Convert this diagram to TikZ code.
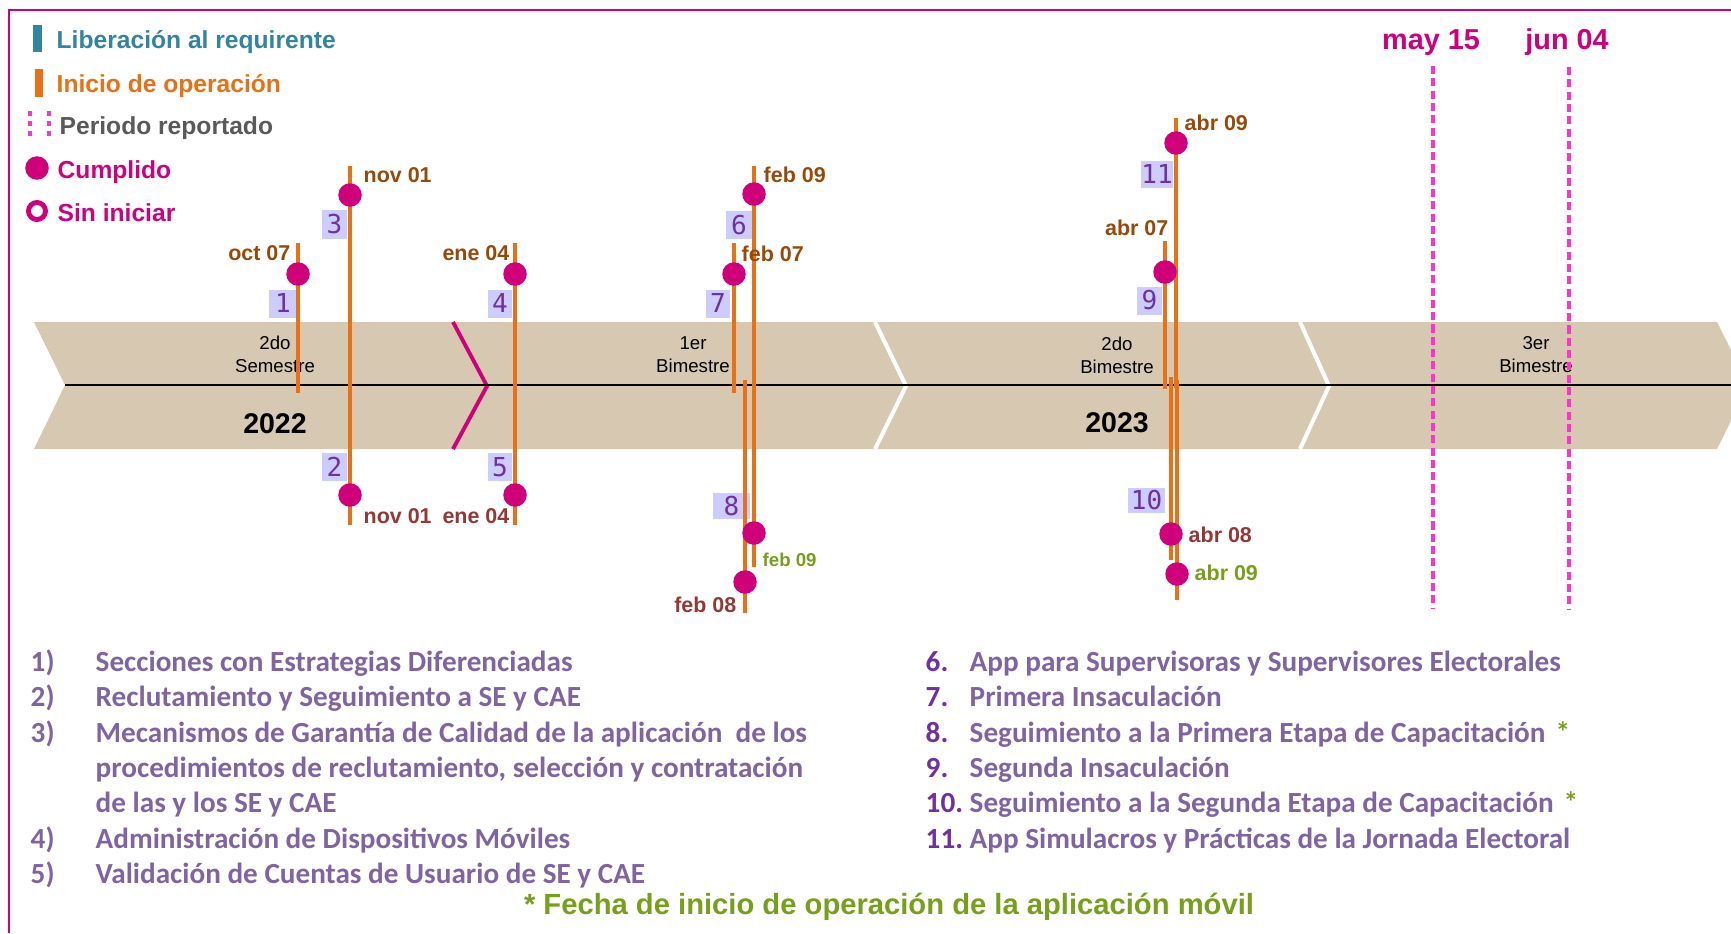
\documentclass[tikz,border=0pt]{standalone}
\usepackage{fontspec}
\setmainfont{Liberation Sans}
\newfontfamily\listfont{Carlito}
\newfontfamily\boxfont{DejaVu Sans Mono}
\newcommand{\setfs}[1]{\fontsize{#1}{#1}\selectfont}
\definecolor{opcolor}{RGB}{233,113,19}
\definecolor{relcolor}{RGB}{49,133,156}
\definecolor{magcolor}{RGB}{208,0,122}
\definecolor{pinkdash}{RGB}{255,51,204}
\definecolor{bandcolor}{RGB}{215,201,177}
\definecolor{browncolor}{RGB}{152,72,7}
\definecolor{redbrown}{RGB}{149,55,53}
\definecolor{greencolor}{RGB}{118,160,26}
\definecolor{boxcolor}{RGB}{204,204,255}
\definecolor{numcolor}{RGB}{112,48,160}
\definecolor{listcolor}{RGB}{128,100,162}
\definecolor{graycolor}{RGB}{89,89,89}
\begin{document}
\begin{tikzpicture}[x=0.01cm,y=-0.01cm,
  opline/.style={draw=opcolor,line width=1.15pt},
  done/.style={circle,fill=magcolor,minimum size=0.235cm,inner sep=0pt},
  numbox/.style={fill=boxcolor,text=numcolor,inner sep=0pt,minimum height=0.28cm,font=\boxfont\setfs{7.4pt}},
  datelbl/.style={inner sep=0pt,font=\bfseries\setfs{6.1pt}},
  seglbl/.style={align=center,inner sep=0pt,font=\fontsize{5.3pt}{6.5pt}\selectfont},
  yearlbl/.style={anchor=mid,inner sep=0pt,font=\bfseries\setfs{8.1pt}},
  legend/.style={anchor=mid west,inner sep=0pt,font=\bfseries\setfs{7pt}},
  listnum/.style={anchor=mid west,inner sep=0pt,font=\listfont\bfseries\setfs{8.3pt}},
  listtxt/.style={anchor=mid west,inner sep=0pt,text=listcolor,font=\listfont\bfseries\setfs{8.3pt}}]

\useasboundingbox (0,0) rectangle (1731,933);

% marco
\draw[magcolor,line width=0.57pt] (9,933) -- (9,10) -- (1731,10);

% leyenda
\fill[relcolor] (33,25) rectangle (42,52);
\node[legend,text=relcolor] (lib) at (56,39.5) {Liberación al requirente};
\fill[opcolor] (35,69) rectangle (43,97);
\node[legend,text=opcolor] (ini) at (56,83) {Inicio de operación};
\draw[pinkdash,line width=1.4pt,dash pattern=on 1.4pt off 1.4pt] (30,111) -- (30,137) (49,111) -- (49,137);
\node[legend,text=graycolor] (per) at (59,125) {Periodo reportado};
\node[done] (cumpl) at (37,168) {};
\node[legend,text=magcolor] (cum) at (57,169) {Cumplido};
\node[circle,draw=magcolor,line width=1.4pt,minimum size=0.17cm,inner sep=0pt] (sinic) at (37,211) {};
\node[legend,text=magcolor] (sin) at (57,212) {Sin iniciar};

% banda
\fill[bandcolor] (34,322) -- (1717,322) -- (1731,350) -- (1731,421) -- (1717,449) -- (34,449) -- (65,385) -- cycle;
\draw[white,line width=1.15pt] (875,322) -- (906,386) -- (875,449);
\draw[white,line width=1.15pt] (1300,322) -- (1329,386) -- (1300,449);
\draw[magcolor,line width=1.1pt] (453,322) -- (487,386) -- (453,449);
\draw[black,line width=0.65pt] (65,385) -- (1731,385);

\node[seglbl] (sem2) at (275,354.5) {2do\\Semestre};
\node[seglbl] (bim1) at (693,354.5) {1er\\Bimestre};
\node[seglbl] (bim2) at (1117,355) {2do\\Bimestre};
\node[seglbl] (bim3) at (1536,354.5) {3er\\Bimestre};
\node[yearlbl] (y22) at (275,424) {2022};
\node[yearlbl] (y23) at (1117,423) {2023};

% numeros
\node[numbox,minimum width=0.28cm] (n1) at (283,303.5) {1};
\node[numbox,minimum width=0.25cm,minimum height=0.29cm] (n3) at (334.5,224.5) {3};
\node[numbox,minimum width=0.25cm] (n2) at (334.5,467) {2};
\node[numbox,minimum width=0.24cm] (n4) at (500,303.5) {4};
\node[numbox,minimum width=0.24cm] (n5) at (500,467) {5};
\node[numbox,minimum width=0.26cm] (n6) at (739,225) {6};
\node[numbox,minimum width=0.24cm] (n7) at (718,303.5) {7};
\node[numbox,minimum width=0.37cm,minimum height=0.26cm] (n8) at (731.5,506) {8};
\node[numbox,minimum width=0.25cm] (n9) at (1149.5,300.5) {9};
\node[numbox,minimum width=0.32cm,minimum height=0.27cm] (n11) at (1157,174.5) {11};
\node[numbox,minimum width=0.37cm,minimum height=0.25cm] (n10) at (1146.5,500.5) {10};

% lineas de inicio
\foreach \x/\a/\b in {298/243/393, 350/166/386, 350/383/525, 515/243/386, 515/383/525,
  754/166/388, 734/243/393, 745/380/613, 754/380/567,
  1165/241/389, 1176/118/388, 1171/377/560, 1177/380/600}
  \draw[opline] (\x,\a) -- (\x,\b);

\node[done] (m1) at (298,274) {};
\node[done] (m2) at (350,495) {};
\node[done] (m3) at (350,195) {};
\node[done] (m4) at (515,274) {};
\node[done] (m5) at (515,495) {};
\node[done] (m6) at (754,194) {};
\node[done] (m7) at (734,274) {};
\node[done] (m8a) at (745,582) {};
\node[done] (m8b) at (754,533) {};
\node[done] (m9) at (1165,272) {};
\node[done] (m10) at (1171,534) {};
\node[done] (m11) at (1176,143) {};
\node[done] (m11b) at (1177,574) {};

% fechas
\node[datelbl,anchor=mid east,text=browncolor] (d1) at (291,251) {oct 07};
\node[datelbl,anchor=mid west,text=browncolor] (d3) at (363,173) {nov 01};
\node[datelbl,anchor=mid west,text=redbrown] (d2) at (363,514) {nov 01};
\node[datelbl,anchor=mid east,text=browncolor] (d4) at (510,251) {ene 04};
\node[datelbl,anchor=mid east,text=redbrown] (d5) at (510,514) {ene 04};
\node[datelbl,anchor=mid west,text=browncolor] (d6) at (763,173) {feb 09};
\node[datelbl,anchor=mid west,text=browncolor] (d7) at (741,252) {feb 07};
\node[datelbl,anchor=mid east,text=redbrown] (d8a) at (737,603) {feb 08};
\node[datelbl,anchor=mid west,text=greencolor,font=\bfseries\setfs{5.3pt}] (d8b) at (762,557) {feb 09};
\node[datelbl,anchor=mid west,text=browncolor] (d11) at (1184,121) {abr 09};
\node[datelbl,anchor=mid east,text=browncolor] (d9) at (1169,226) {abr 07};
\node[datelbl,anchor=mid west,text=redbrown] (d10) at (1188,533) {abr 08};
\node[datelbl,anchor=mid west,text=greencolor] (d11b) at (1194,571) {abr 09};

% periodo reportado
\draw[pinkdash,line width=0.95pt,dash pattern=on 2.3pt off 1.2pt] (1433,66) -- (1433,609);
\draw[pinkdash,line width=0.95pt,dash pattern=on 2.3pt off 1.2pt] (1569,67) -- (1569,609);
\node[anchor=mid,inner sep=0pt,text=magcolor,font=\bfseries\setfs{8.2pt}] (may) at (1431,40) {may 15};
\node[anchor=mid,inner sep=0pt,text=magcolor,font=\bfseries\setfs{8.2pt}] (jun) at (1567,40) {jun 04};

% lista
\node[listnum,text=listcolor] (k1) at (30,662) {1)};
\node[listtxt] (t1) at (95,662) {Secciones con Estrategias Diferenciadas};
\node[listnum,text=listcolor] (k2) at (30,697.5) {2)};
\node[listtxt] (t2) at (95,697.5) {Reclutamiento y Seguimiento a SE y CAE};
\node[listnum,text=listcolor] (k3) at (30,733) {3)};
\node[listtxt] (t3) at (95,733) {Mecanismos de Garantía de Calidad de la aplicación\ \ de los};
\node[listtxt] (t3b) at (95,768) {procedimientos de reclutamiento, selección y contratación};
\node[listtxt] (t3c) at (95,803.5) {de las y los SE y CAE};
\node[listnum,text=listcolor] (k4) at (30,839) {4)};
\node[listtxt] (t4) at (95,839) {Administración de Dispositivos Móviles};
\node[listnum,text=listcolor] (k5) at (30,874) {5)};
\node[listtxt] (t5) at (95,874) {Validación de Cuentas de Usuario de SE y CAE};

\node[listnum,text=numcolor] (k6) at (925,662) {6.};
\node[listtxt] (t6) at (969,662) {App para Supervisoras y Supervisores Electorales};
\node[listnum,text=numcolor] (k7) at (925,697.5) {7.};
\node[listtxt] (t7) at (969,697.5) {Primera Insaculación};
\node[listnum,text=numcolor] (k8) at (925,733) {8.};
\node[listtxt] (t8) at (969,733) {Seguimiento a la Primera Etapa de Capacitación\hspace{0.35em}\textcolor{greencolor}{*}};
\node[listnum,text=numcolor] (k9) at (925,768) {9.};
\node[listtxt] (t9) at (969,768) {Segunda Insaculación};
\node[listnum,text=numcolor] (k10) at (925,803.5) {10.};
\node[listtxt] (t10) at (969,803.5) {Seguimiento a la Segunda Etapa de Capacitación\hspace{0.35em}\textcolor{greencolor}{*}};
\node[listnum,text=numcolor] (k11) at (925,839) {11.};
\node[listtxt] (t11) at (969,839) {App Simulacros y Prácticas de la Jornada Electoral};

\node[anchor=mid,inner sep=0pt,text=greencolor,font=\bfseries\setfs{8.3pt}] (nota) at (889,905) {* Fecha de inicio de operación de la aplicación móvil};
\end{tikzpicture}
\end{document}
